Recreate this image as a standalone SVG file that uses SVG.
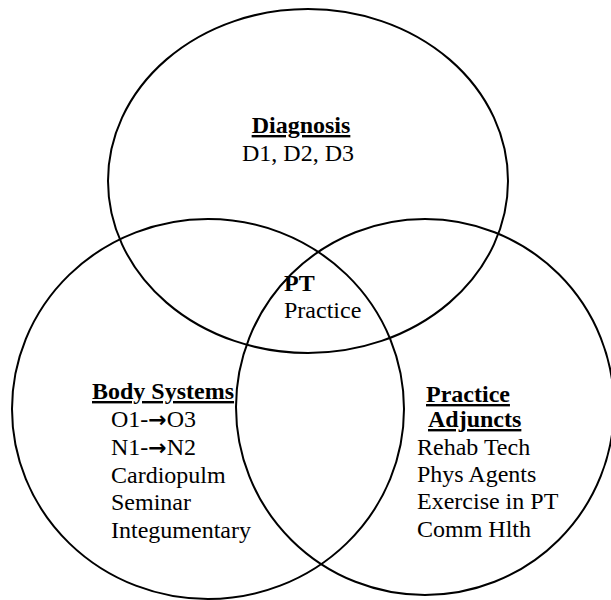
<svg xmlns="http://www.w3.org/2000/svg" width="611" height="600" viewBox="0 0 611 600">
<style>
.c{fill:none;stroke:#000;stroke-width:2}
text{font-family:"Liberation Serif","Times New Roman",serif;font-size:24px;fill:#000}
.b{font-weight:bold;text-decoration:underline}
.pt{font-weight:bold}
.ar{font-family:"DejaVu Sans",sans-serif;font-weight:bold;font-size:22px}
</style>
<rect width="611" height="600" fill="#fff"/>
<g id="connectors"></g>
<g id="diagnosis">
<ellipse class="c" cx="308" cy="181" rx="200" ry="172"/>
<text class="b" x="301" y="133" text-anchor="middle">Diagnosis</text>
<text x="298" y="161" text-anchor="middle">D1, D2, D3</text>
</g>
<g id="body-systems">
<ellipse class="c" cx="208" cy="409" rx="196" ry="190"/>
<text class="b" x="92" y="399">Body Systems</text>
<text x="111" y="427">O1-<tspan class="ar">→</tspan>O3</text>
<text x="111" y="455">N1-<tspan class="ar">→</tspan>N2</text>
<text x="111" y="483">Cardiopulm</text>
<text x="111" y="510">Seminar</text>
<text x="111" y="538">Integumentary</text>
</g>
<g id="practice-adjuncts">
<ellipse class="c" cx="425" cy="407" rx="189" ry="188"/>
<text class="b" x="426" y="402">Practice</text>
<text class="b" x="428" y="427">Adjuncts</text>
<text x="417" y="455">Rehab Tech</text>
<text x="417" y="482">Phys Agents</text>
<text x="417" y="509">Exercise in PT</text>
<text x="417" y="537">Comm Hlth</text>
</g>
<g id="pt-practice">
<text class="pt" x="284" y="291">PT</text>
<text x="284" y="318">Practice</text>
</g>
</svg>
